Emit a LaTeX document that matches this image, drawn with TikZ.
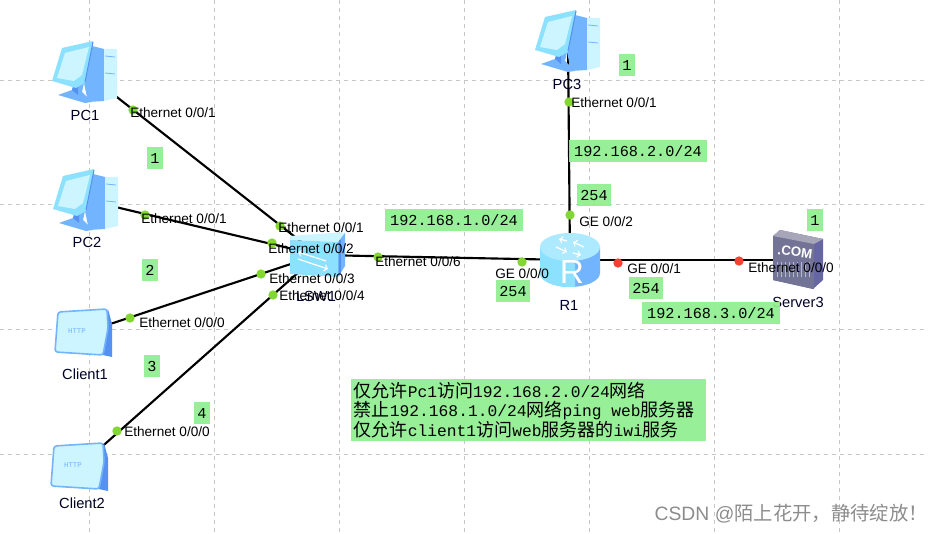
\documentclass[tikz,border=0pt]{standalone}
\usepackage{fontspec}
\setmainfont{Liberation Sans}
\setmonofont{Liberation Mono}
\newfontfamily\cjkfont{Noto Sans CJK SC}
\usetikzlibrary{positioning}
\newcommand{\zh}[1]{{\cjkfont\fontsize{13.5}{14.6}\selectfont #1}}

\definecolor{lightgrn}{RGB}{144,238,144}
\definecolor{portgrn}{RGB}{130,215,50}
\definecolor{portred}{RGB}{245,65,50}
\definecolor{iconpale}{RGB}{205,245,255}
\definecolor{iconlight}{RGB}{140,225,255}
\definecolor{iconblue}{RGB}{115,180,255}
\definecolor{icondark}{RGB}{85,145,240}

\tikzset{
  pcicon/.pic={
    \begin{scope}[shift={(-33,-32)}]
      % tower
      \fill[iconblue] (40,6) -- (52,9) -- (52,61) -- (36,62) -- (32,43) -- cycle;
      \fill[iconpale] (52,9) -- (65,9) -- (65,58) -- (52,61) -- cycle;
      \draw[iconblue,line width=0.6pt] (53,16) -- (63,17) (53,33) -- (63,34);
      % stand
      \fill[iconblue] (6,55) -- (20,50) -- (22,43) -- (32,43) -- (30,52) -- (40,62) -- (33,63) -- cycle;
      \fill[icondark] (20,50) -- (22,44) -- (26,45) -- (26,55) -- cycle;
      % monitor
      \fill[iconlight] (0,41) -- (10,8) -- (41,1) -- (33,43) -- (24,48) -- cycle;
      \fill[iconpale] (5,38) -- (13,13) -- (37,7) -- (30,35) -- (22,41) -- cycle;
      \draw[icondark,line width=0.8pt] (41,2) -- (33,42);
    \end{scope}
  },
  clienticon/.pic={
    \begin{scope}[shift={(-29,-25)}]
      \fill[icondark] (54,1) -- (58,16) -- (58,49) -- (44,46) -- cycle;
      \fill[iconpale,draw=iconblue,line width=1.2pt,rounded corners=2pt]
        (4,4) -- (53,1) -- (54,20) -- (49,47) -- (1,44) -- cycle;
      \node[font=\ttfamily\fontsize{5.5}{6}\selectfont,text=iconblue,inner sep=0pt] at (23,23) {HTTP};
    \end{scope}
  },
  switchicon/.pic={
    \begin{scope}[shift={(-28,-20)}]
      \fill[iconpale] (0,1) -- (43,-2) -- (55,-2) -- (48,7) -- (0,5) -- cycle;
      \fill[iconlight] (0,5) -- (48,7) -- (48,42) -- (0,39) -- cycle;
      \fill[iconblue] (48,7) -- (55,-2) -- (55,31) -- (48,42) -- cycle;
      \draw[icondark,line width=1pt] (50,5) -- (50,39);
      \draw[white,line width=1pt,->] (8,24) -- (38,34);
      \draw[white,line width=1pt,->] (36,26) -- (8,17);
    \end{scope}
  },
  routericon/.pic={
    \fill[iconblue] (-30,-13) -- (-30,13) arc[start angle=180,end angle=0,x radius=30,y radius=14] -- (30,-13) -- cycle;
    \fill[iconlight] (-30,-13) -- (-30,13) arc[start angle=180,end angle=90,x radius=30,y radius=14] -- (5,27) -- (5,-13) -- cycle;
    \fill[iconlight!70!white] (0,-13) ellipse[x radius=30,y radius=14];
    \draw[white,line width=1pt,->] (-14,-13) -- (-3,-8);
    \draw[white,line width=1pt,->] (14,-13) -- (3,-18);
    \draw[white,line width=1pt,->] (-3,-19) -- (-11,-21);
    \draw[white,line width=1pt,->] (3,-7) -- (11,-5);
    \node[text=white,font=\fontsize{25}{25}\selectfont,inner sep=0pt] at (2,12) {R};
  },
  servericon/.pic={
    \begin{scope}[shift={(-25,-30)}]
      \fill[black!60!blue!60!white] (0,6) -- (7,0) -- (50,9) -- (50,50) -- (40,59) -- (0,50) -- cycle;
      \fill[blue!25!black!55!white] (0,6) -- (41,14) -- (41,59) -- (0,50) -- cycle;
      \fill[blue!20!black!35!white] (0,6) -- (7,0) -- (50,9) -- (41,14) -- cycle;
      \node[text=white,font=\bfseries\fontsize{10}{10}\selectfont,inner sep=0pt,rotate=-8] at (22,22) {.COM};
      \foreach \i in {4,8,...,36}
        \draw[white!70!blue,line width=0.5pt] (\i,32) -- (\i,47);
    \end{scope}
  },
}

\begin{document}
\begin{tikzpicture}[
      x=0.75pt,y=-0.75pt,
      device/.style={inner sep=0pt,minimum size=0pt},
      link/.style={draw=black,line width=1.6pt},
      gridline/.style={draw=black!22,dashed,line width=0.5pt},
      devlabel/.style={font=\fontsize{11}{12}\selectfont,inner sep=0pt,text=black!85!blue},
      portlabel/.style={font=\fontsize{10.2}{12}\selectfont,inner sep=0pt,anchor=west},
      portdot/.style={circle,fill=portgrn,inner sep=0pt,minimum size=7pt},
      downdot/.style={portdot,fill=portred},
      note/.style={fill=lightgrn,fill opacity=0.94,text opacity=1,inner sep=0pt,
                   font=\ttfamily\fontsize{11.4}{14}\selectfont},
      addr/.style={note,minimum width=103pt,minimum height=16.5pt},
      hostnum/.style={note,minimum width=12pt,minimum height=16pt},
      gwnum/.style={note,minimum width=25pt,minimum height=16pt},
    ]
    \useasboundingbox (0,0) rectangle (928,534);

    % grid
    \foreach \x in {89,214,339,464,589,714,839}
      \draw[gridline] (\x,0) -- (\x,534);
    \foreach \y in {80,204,329,454}
      \draw[gridline] (0,\y) -- (928,\y);

    % devices
    \node[device] (pc1) at (85,72) {};
    \node[device] (pc2) at (86,200) {};
    \node[device] (client1) at (83,333) {};
    \node[device] (client2) at (79,467) {};
    \node[device] (sw) at (318,255) {};
    \node[device] (r1) at (570,260) {};
    \node[device] (pc3) at (568,41) {};
    \node[device] (server3) at (798,260) {};

    % links
    \draw[link] (pc1) -- (sw);
    \draw[link] (pc2) -- (sw);
    \draw[link] (client1) -- (sw);
    \draw[link] (client2) -- (sw);
    \draw[link] (sw) -- (r1);
    \draw[link] (r1) -- (pc3);
    \draw[link] (r1) -- (server3);

    % icons
    \pic at (pc1) {pcicon};
    \pic at (pc2) {pcicon};
    \pic at (pc3) {pcicon};
    \pic at (client1) {clienticon};
    \pic at (client2) {clienticon};
    \pic at (sw) {switchicon};
    \pic at (r1) {routericon};
    \pic at (server3) {servericon};

    % ports
    \node[portdot] (p1) at (133,110) {};
    \node[portdot] (p2) at (145,215) {};
    \node[portdot] (p3) at (130,318) {};
    \node[portdot] (p4) at (117,431) {};
    \node[portdot] (s1) at (280,226) {};
    \node[portdot] (s2) at (272,243) {};
    \node[portdot] (s3) at (261,274) {};
    \node[portdot] (s4) at (273,295) {};
    \node[portdot] (s6) at (378,257) {};
    \node[portdot] (g0) at (522,262) {};
    \node[portdot] (g2) at (570,215) {};
    \node[portdot] (e3) at (569,102) {};
    \node[downdot] (g1) at (618,263) {};
    \node[downdot] (e0) at (739,261) {};

    % device names
    \node[devlabel] (pc1name) at (85,115) {PC1};
    \node[devlabel] (pc2name) at (87,242) {PC2};
    \node[devlabel] (c1name) at (85,374) {Client1};
    \node[devlabel] (c2name) at (82,503) {Client2};
    \node[devlabel] (swname) at (316,296) {LSW1};
    \node[devlabel] (pc3name) at (567,84) {PC3};
    \node[devlabel] (r1name) at (569,305) {R1};
    \node[devlabel] (srvname) at (798,302) {Server3};

    % port names
    \node[portlabel] (lp1) at (130,113) {Ethernet 0/0/1};
    \node[portlabel] (lp2) at (141,219) {Ethernet 0/0/1};
    \node[portlabel] (lp3) at (139,323) {Ethernet 0/0/0};
    \node[portlabel] (lp4) at (124,432) {Ethernet 0/0/0};
    \node[portlabel] (ls1) at (278,228) {Ethernet 0/0/1};
    \node[portlabel] (ls2) at (268,249) {Ethernet 0/0/2};
    \node[portlabel] (ls3) at (269,279) {Ethernet 0/0/3};
    \node[portlabel] (ls4) at (279,296) {Ethernet 0/0/4};
    \node[portlabel] (ls6) at (375,262) {Ethernet 0/0/6};
    \node[portlabel] (lg0) at (495,274) {GE 0/0/0};
    \node[portlabel] (lg2) at (579,222) {GE 0/0/2};
    \node[portlabel] (lg1) at (627,269) {GE 0/0/1};
    \node[portlabel] (le3) at (571,103) {Ethernet 0/0/1};
    \node[portlabel] (le0) at (748,268) {Ethernet 0/0/0};

    % addressing
    \node[hostnum] (n1) at (155,158) {1};
    \node[hostnum] (n2) at (150,270) {2};
    \node[hostnum] (n3) at (152,366) {3};
    \node[hostnum] (n4) at (202,413) {4};
    \node[hostnum] (n5) at (627,65) {1};
    \node[hostnum] (n6) at (815,220) {1};
    \node[gwnum] (gw2) at (594,195) {254};
    \node[gwnum] (gw1) at (513,291) {254};
    \node[gwnum] (gw3) at (646,288) {254};
    \node[addr] (net1) at (454,220) {192.168.1.0/24};
    \node[addr] (net2) at (638,151) {192.168.2.0/24};
    \node[addr] (net3) at (711,313) {192.168.3.0/24};

    % policy
    \node[note,anchor=north west,minimum width=266pt,minimum height=46pt,
          align=left,text width=262pt,inner xsep=2pt,
          font=\ttfamily\fontsize{12.2}{14.6}\selectfont] (policy) at (351,379) {%
      \zh{仅允许}Pc1\zh{访问}192.168.2.0/24\zh{网络}\\
      \zh{禁止}192.168.1.0/24\zh{网络}ping\hspace{0.6em}web\zh{服务器}\\
      \zh{仅允许}client1\zh{访问}web\zh{服务器的}iwi\zh{服务}
    };

    \node[anchor=east,inner sep=0pt,text=black!45,font=\fontsize{14.5}{16}\selectfont] (mark) at (928,514)
      {CSDN @{\cjkfont 陌上花开，静待绽放！}};

  \end{tikzpicture}
\end{document}
